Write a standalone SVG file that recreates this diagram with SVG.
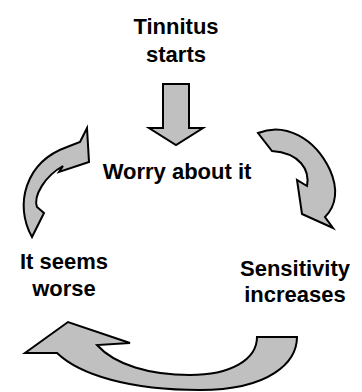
<svg xmlns="http://www.w3.org/2000/svg" width="362" height="392" viewBox="0 0 362 392">
<style>
.lbl{font-family:"Liberation Sans",Arial,sans-serif;font-weight:bold;font-size:22px;fill:#000;text-anchor:middle}
.arr{fill:#c0c0c0;stroke:#000;stroke-width:2;stroke-linejoin:miter}
</style>
<rect width="362" height="392" fill="#fff"/>
<g id="tinnitus-starts"><text class="lbl" x="176" y="34">Tinnitus</text><text class="lbl" x="176" y="62">starts</text></g>
<g id="worry"><text class="lbl" x="177" y="179">Worry about it</text></g>
<g id="seems-worse"><text class="lbl" x="64" y="269">It seems</text><text class="lbl" x="64" y="296">worse</text></g>
<g id="sensitivity"><text class="lbl" x="295" y="276">Sensitivity</text><text class="lbl" x="295" y="302">increases</text></g>
<g id="connectors">
<path class="arr" d="M163,84 H189 V128 H203 L176,145 L149,128 H163 Z"/>
<path class="arr" d="M258,133 C285,122 315,138 330,170 C338,188 337,205 325,217 L333,228 L302,214 L297,180 L307,186 C310,170 300,153 272,151 Z"/>
<path class="arr" d="M32,237 C14,205 25,162 67,147 L80,142 L87,128 L89,162 L59,172 L63,166 C45,176 33,196 37,207 L44,213 Z"/>
<path class="arr" d="M257,337 H297 C297,362 270,390 200,390 C130,390 80,375 57,353 L25,353 L68,322 L130,343 L97,345 C115,365 150,375 190,375 C230,375 257,360 257,337 Z"/>
</g>
</svg>
